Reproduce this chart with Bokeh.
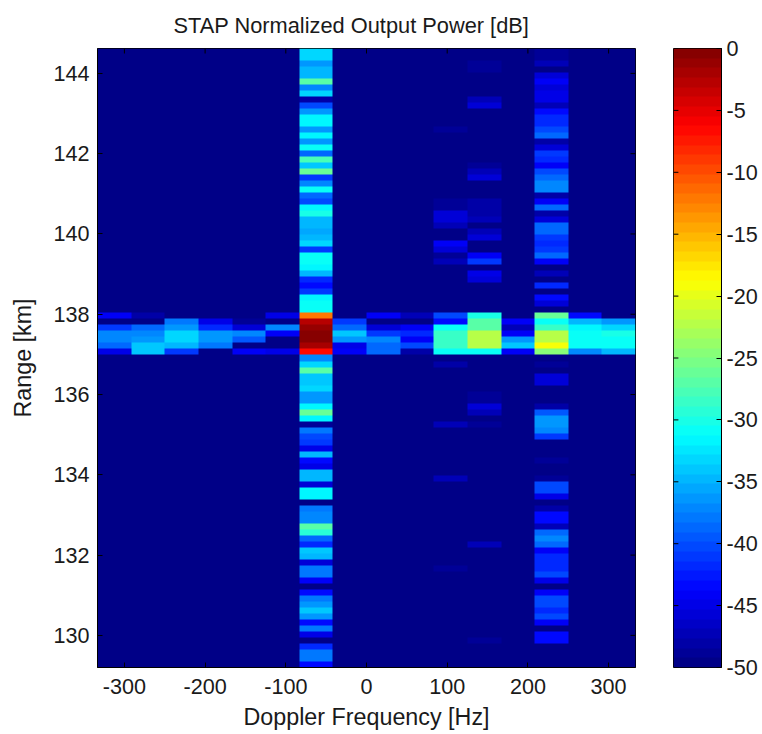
import numpy as np
from bokeh.embed import file_html
from bokeh.layouts import row
from bokeh.models import FixedTicker, LinearColorMapper, Range1d
from bokeh.plotting import figure
from bokeh.resources import INLINE

TITLE = "STAP Normalized Output Power [dB]"
XLABEL = "Doppler Frequency [Hz]"
YLABEL = "Range [km]"
X_TICKS = [-300, -200, -100, 0, 100, 200, 300]
Y_TICKS = [130, 132, 134, 136, 138, 140, 142, 144]
CB_TICKS = [0, -5, -10, -15, -20, -25, -30, -35, -40, -45, -50]
X_MIN, X_MAX = -333.33, 333.33
Y_MIN, Y_MAX = 129.2, 144.62
N_ROWS, N_COLS = 103, 16
FLOOR = -50

# dB per range row (top row first) for the two full columns
col_6 = [
    -33, -33, -36, -34.5, -34.5, -27, -37.5, -33, -48, -40,
    -36, -31.5, -31.5, -36, -32, -36, -31, -38.5, -28, -34,
    -26, -41, -37.5, -31, -39, -40, -32, -30, -34.5, -35,
    -35.5, -35, -33.5, -41, -31, -31, -32, -34.5, -42, -43,
    -41, -32, -31, -31, -12, -3, -1, -0.5, -0.5, -2,
    -7, -37.5, -33, -27, -34, -34, -33, -36, -36, -32,
    -26.5, -32, -49, -38, -40, -41, -45, -35, -43, -45,
    -35, -35, -46, -32, -32, -50, -38, -37, -37, -27,
    -29, -39, -42, -34, -35, -45.5, -38, -38, -44.5, -50,
    -43, -38, -36, -34, -36, -43, -38, -45, -50, -42,
    -38, -38, -43,
]
col_13 = [
    -48.5, -49, -47.5, -50, -46, -44, -45.5, -45, -45, -47.5,
    -43, -42, -42, -40, -39, -48, -46, -41, -41.5, -44,
    -40, -39, -37, -37, -48, -44, -38.5, -48, -46, -39,
    -39, -41, -41.5, -41, -39, -44, -50, -47, -50, -42,
    -50, -43, -46, -50, -26.5, -31, -28.5, -22, -22, -19.5,
    -25, -50, -48.5, -50, -46, -46, -50, -50, -50, -48,
    -39.5, -36, -36, -37.5, -41, -50, -50, -50, -48.5, -50,
    -50, -49, -40, -40, -45, -50, -48, -43, -43, -47,
    -39, -37, -39, -44, -42, -42, -42, -40, -45, -50,
    -44, -40, -40, -42, -40, -44, -50, -43, -43, -50,
    -50, -50, -50,
]
# dB for the sparse columns: row index -> value
col_10 = {13: -49, 25: -48.5, 26: -49, 27: -46, 28: -46, 29: -47.5, 32: -44, 33: -46,
          34: -48.5, 35: -47.5, 44: -40, 45: -43, 46: -31, 47: -28.5, 48: -28.5,
          49: -28.5, 50: -30.5, 52: -48, 61: -49.5, 62: -47.5, 71: -47.5, 86: -49}
col_11 = {2: -48.5, 3: -49, 8: -47, 9: -46, 19: -49, 20: -47.5, 21: -45.5, 25: -48,
          26: -48, 27: -48, 28: -47.5, 30: -47, 31: -46, 34: -44, 35: -41, 37: -45,
          38: -46, 44: -30, 45: -27, 46: -27, 47: -22, 48: -22, 49: -22, 50: -31,
          57: -49, 58: -49, 59: -46, 60: -47, 62: -49, 63: -49.5, 82: -47, 97: -49.5,
          98: -48.5}
# central band, rows 44 to 50, for the other columns
band_0 = [-44.5, -50, -41, -37, -37.5, -39, -45]
band_1 = [-48, -50, -38.5, -37, -36, -34, -34]
band_2 = [-50, -38, -36, -33, -33, -35, -41]
band_3 = [-50, -45, -42, -36, -36, -38, -50]
band_4 = [-50, -48.5, -46, -37.5, -39.5, -50, -44]
band_5 = [-45, -50, -37.5, -44, -50, -50, -45]
band_7 = [-50, -41, -38.5, -34, -36.5, -45, -44]
band_8 = [-44, -50, -46, -41, -37, -39, -39]
band_9 = [-47, -50, -44, -42, -44, -40, -48]
band_12 = [-50, -44, -47.5, -44, -36.5, -34, -44]
band_14 = [-43, -35, -31.5, -31, -31, -31, -37]
band_15 = [-50, -36, -33, -30, -31, -31, -35]
BAND_START = 44


def jet(n):
    out = []
    for i in range(n):
        t = (i + 0.5) / n
        r = np.clip(min(4 * t - 1.5, -4 * t + 4.5), 0, 1)
        g = np.clip(min(4 * t - 0.5, -4 * t + 3.5), 0, 1)
        b = np.clip(min(4 * t + 0.5, -4 * t + 2.5), 0, 1)
        out.append("#%02x%02x%02x" % (round(r * 255), round(g * 255), round(b * 255)))
    return out


grid = np.full((N_ROWS, N_COLS), float(FLOOR))
grid[:, 6] = col_6
grid[:, 13] = col_13
for c, d in ((10, col_10), (11, col_11)):
    for r, v in d.items():
        grid[r, c] = v
for c, b in ((0, band_0), (1, band_1), (2, band_2), (3, band_3), (4, band_4), (5, band_5),
             (7, band_7), (8, band_8), (9, band_9), (12, band_12), (14, band_14), (15, band_15)):
    grid[BAND_START:BAND_START + len(b), c] = b

mapper = LinearColorMapper(palette=jet(64), low=-50, high=0)
FONT = "Liberation Sans"
TXT = "#1a1a1a"
TICK_FS = "21.6px"
LABEL_FS = "23.3px"
TICK_PX = 5
FRAME_W, FRAME_H = 538, 619
CB_W = 49
HEIGHT = 732
BOTTOM = 65


def style(ax):
    ax.axis_line_color = "#000000"
    ax.major_tick_line_color = "#000000"
    ax.major_tick_in = TICK_PX
    ax.major_tick_out = 0
    ax.minor_tick_line_color = None
    ax.major_label_text_font = FONT
    ax.major_label_text_color = TXT
    ax.major_label_text_font_size = TICK_FS


p = figure(width=673, height=HEIGHT, output_backend="svg", toolbar_location=None,
           x_range=Range1d(X_MIN, X_MAX), y_range=Range1d(Y_MIN, Y_MAX),
           min_border_left=97, min_border_right=38, min_border_top=48, min_border_bottom=BOTTOM,
           tools="")
p.image(image=[grid[::-1]], x=X_MIN, y=Y_MIN, dw=X_MAX - X_MIN, dh=Y_MAX - Y_MIN, color_mapper=mapper)
p.grid.visible = False
p.outline_line_color = "#000000"
p.title.text = TITLE
p.title.align = "left"
p.title.offset = 76
p.title.text_font = FONT
p.title.text_font_size = "21.8px"
p.title.text_font_style = "normal"
p.title.text_color = TXT
p.title.standoff = 21
p.xaxis.axis_label = XLABEL
p.yaxis.axis_label = YLABEL
for ax in (p.xaxis[0], p.yaxis[0]):
    style(ax)
    ax.axis_label_text_font = FONT
    ax.axis_label_text_font_style = "normal"
    ax.axis_label_text_font_size = LABEL_FS
    ax.axis_label_text_color = TXT
p.xaxis[0].major_label_standoff = 11
p.yaxis[0].major_label_standoff = 8
p.xaxis[0].axis_label_standoff = 7
p.yaxis[0].axis_label_standoff = 14
p.xaxis[0].ticker = FixedTicker(ticks=X_TICKS)
p.yaxis[0].ticker = FixedTicker(ticks=Y_TICKS)
p.xaxis[0].major_label_overrides = {t: str(t) for t in X_TICKS}

# inward ticks on the top and right edges of the box
dy = (Y_MAX - Y_MIN) * TICK_PX / FRAME_H
dx = (X_MAX - X_MIN) * TICK_PX / FRAME_W
p.segment(x0=X_TICKS, x1=X_TICKS, y0=[Y_MAX] * len(X_TICKS), y1=[Y_MAX - dy] * len(X_TICKS),
          line_color="#000000")
p.segment(x0=[X_MAX] * len(Y_TICKS), x1=[X_MAX - dx] * len(Y_TICKS), y0=Y_TICKS, y1=Y_TICKS,
          line_color="#000000")

cb = figure(width=87, height=HEIGHT, output_backend="svg", toolbar_location=None,
            x_range=Range1d(0, 1), y_range=Range1d(-50, 0), tools="",
            min_border_left=0, min_border_right=38, min_border_top=48, min_border_bottom=BOTTOM,
            y_axis_location="right")
cb.image(image=[np.linspace(-50, 0, 64).reshape(64, 1)], x=0, y=-50, dw=1, dh=50, color_mapper=mapper)
cb.grid.visible = False
cb.outline_line_color = "#000000"
cb.xaxis.visible = False
style(cb.yaxis[0])
cb.yaxis[0].major_label_standoff = 5
cb.yaxis[0].ticker = FixedTicker(ticks=CB_TICKS)
cb.yaxis[0].major_label_overrides = {t: str(t) for t in CB_TICKS}
cb.segment(x0=[0] * len(CB_TICKS), x1=[TICK_PX / CB_W] * len(CB_TICKS), y0=CB_TICKS, y1=CB_TICKS,
           line_color="#000000")

open("out.html", "w").write(file_html(row(p, cb), INLINE))
